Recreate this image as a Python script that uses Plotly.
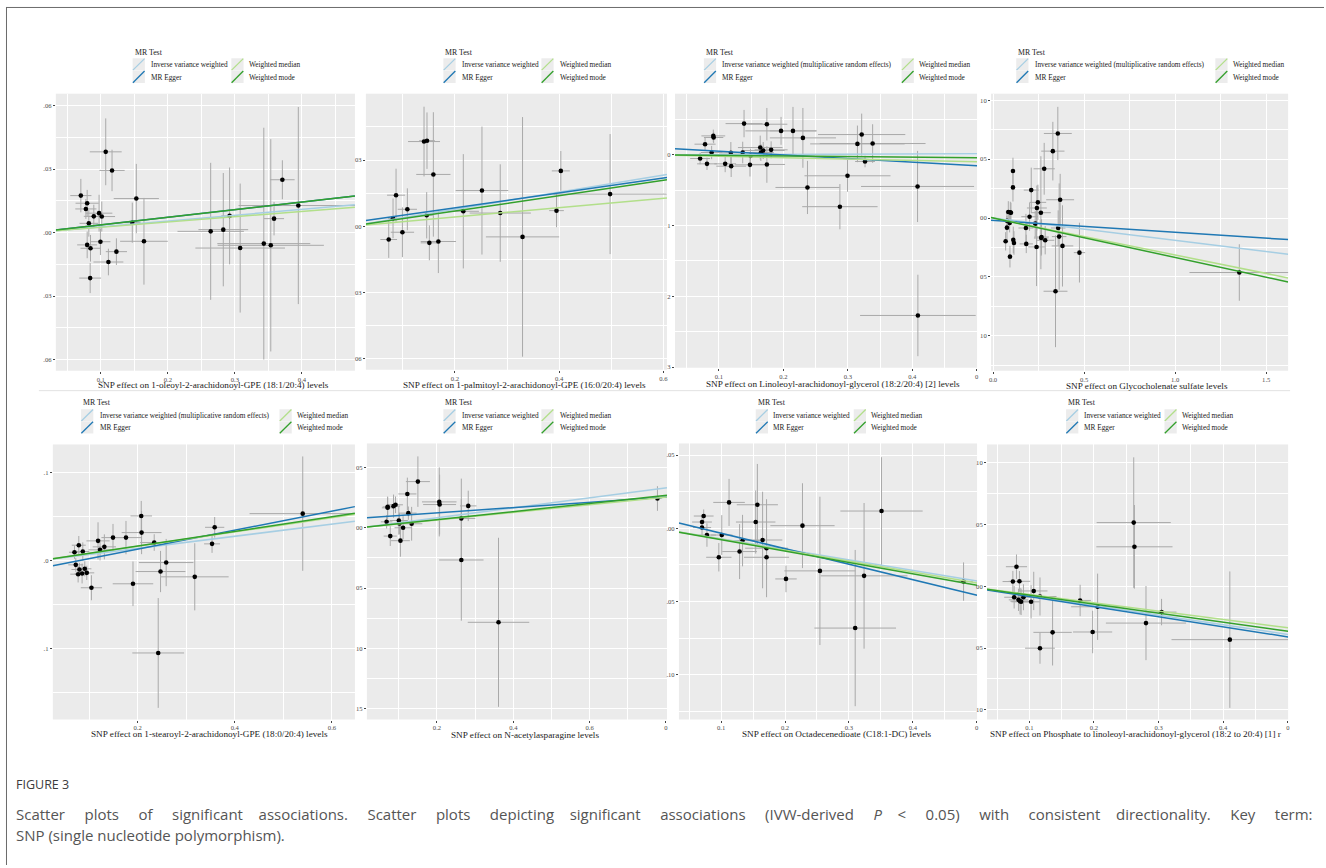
import plotly.graph_objects as go

W, H = 1326, 868

METHODS = ["Inverse variance weighted", "MR Egger", "Weighted median", "Weighted mode"]
METHOD_COLORS = ["#a6cee3", "#1f78b4", "#b2df8a", "#33a02c"]
IVW_LONG = "Inverse variance weighted (multiplicative random effects)"

# ---- 1-oleoyl-2-arachidonoyl-GPE (18:1/20:4) ----
exp1 = [0.0703, 0.0797, 0.0778, 0.0822, 0.0896, 0.0975, 0.1015, 0.0995, 0.0797, 0.0847, 0.0842, 0.1114, 0.1233, 0.1074,
        0.1168, 0.1530, 0.1470, 0.1644, 0.2639, 0.2827, 0.2921, 0.3079, 0.3431, 0.3535, 0.3584, 0.3708, 0.3946]
out1 = [0.0175, 0.0139, 0.0112, 0.0044, 0.0077, 0.0092, 0.0076, -0.0043, -0.0058, -0.0074, -0.0215, -0.0139, -0.0090, 0.0382,
        0.0294, 0.0161, 0.0047, -0.0041, 0.0006, 0.0014, 0.0079, -0.0073, -0.0052, -0.0060, 0.0066, 0.0250, 0.0128]
exp_se1 = [0.0158, 0.0173, 0.0158, 0.0139, 0.0149, 0.0198, 0.0198, 0.0149, 0.0149, 0.0149, 0.0163, 0.0223, 0.0158, 0.0238,
           0.0188, 0.0337, 0.0124, 0.0356, 0.0495, 0.0371, 0.0124, 0.0668, 0.0693, 0.0792, 0.0149, 0.0183, 0.0891]
out_se1 = [0.0079, 0.0063, 0.0047, 0.0063, 0.0055, 0.0087, 0.0071, 0.0063, 0.0063, 0.0063, 0.0071, 0.0063, 0.0063, 0.0158,
           0.0098, 0.0164, 0.0095, 0.0205, 0.0324, 0.0268, 0.0229, 0.0305, 0.0548, 0.0502, 0.0079, 0.0092, 0.0466]
slope1 = [0.0274, 0.0360, 0.0250, 0.0362]
icpt1 = [0.0, 0.0001, 0.0, 0.0]

# ---- 1-palmitoyl-2-arachidonoyl-GPE (16:0/20:4) ----
exp2 = [0.0728, 0.0811, 0.0869, 0.0991, 0.1086, 0.1406, 0.1463, 0.1457, 0.1508, 0.1585, 0.1681, 0.2160, 0.2518, 0.2869,
        0.3297, 0.3949, 0.4032, 0.4978]
out2 = [-0.0060, 0.0036, 0.0141, -0.0027, 0.0077, 0.0384, 0.0388, 0.0050, -0.0075, 0.0235, -0.0069, 0.0068, 0.0162, 0.0060,
        -0.0048, 0.0071, 0.0251, 0.0146]
exp_se2 = [0.0160, 0.0100, 0.0173, 0.0224, 0.0185, 0.0307, 0.0150, 0.0120, 0.0166, 0.0329, 0.0339, 0.0300, 0.0505, 0.0588,
           0.0703, 0.0141, 0.0173, 0.1086]
out_se2 = [0.0083, 0.0090, 0.0120, 0.0113, 0.0095, 0.0158, 0.0128, 0.0105, 0.0079, 0.0282, 0.0143, 0.0259, 0.0290, 0.0221,
           0.0543, 0.0075, 0.0090, 0.0272]
slope2 = [0.0387, 0.0338, 0.0211, 0.0347]
icpt2 = [0.0, 0.0016, 0.0, 0.0]

# ---- Linoleoyl-arachidonoyl-glycerol (18:2/20:4) [2] ----
exp3 = [0.0708, 0.0785, 0.0815, 0.0887, 0.0913, 0.0918, 0.1097, 0.1185, 0.1190, 0.1369, 0.1390, 0.1482, 0.1492, 0.1641,
        0.1651, 0.1687, 0.1744, 0.1744, 0.1810, 0.1964, 0.2149, 0.2303, 0.2374, 0.2877, 0.2995, 0.3149, 0.3215, 0.3267,
        0.3385, 0.4082, 0.4087]
out3 = [-0.0052, 0.0151, -0.0127, 0.0033, 0.0268, 0.0245, -0.0127, 0.0028, -0.0160, 0.0033, 0.0442, -0.0141, -0.0014,
        0.0103, 0.0033, 0.0061, 0.0433, -0.0136, 0.0071, 0.0339, 0.0339, 0.0240, -0.0461, -0.0733, -0.0296, 0.0155, 0.0287,
        -0.0094, 0.0160, -0.0447, -0.2271]
exp_se3 = [0.0154, 0.0164, 0.0154, 0.0167, 0.0185, 0.0150, 0.0169, 0.0179, 0.0231, 0.0179, 0.0287, 0.0231, 0.0150, 0.0346,
           0.0200, 0.0333, 0.0318, 0.0282, 0.0256, 0.0554, 0.0359, 0.0513, 0.0497, 0.0585, 0.0667, 0.0733, 0.0677, 0.0154,
           0.0821, 0.0877, 0.0897]
out_se3 = [0.0082, 0.0094, 0.0087, 0.0094, 0.0089, 0.0080, 0.0118, 0.0153, 0.0153, 0.0153, 0.0193, 0.0165, 0.0100, 0.0169,
           0.0120, 0.0120, 0.0230, 0.0259, 0.0120, 0.0197, 0.0339, 0.0423, 0.0376, 0.0320, 0.0226, 0.0259, 0.0296, 0.0082,
           0.0273, 0.0503, 0.0576]
slope3 = [0.0030, -0.0515, -0.0198, -0.0085]
icpt3 = [0.0, 0.0102, 0.0, 0.0]

# ---- Glycocholenate sulfate ----
exp4 = [0.0693, 0.0766, 0.0766, 0.0839, 0.0949, 0.0985, 0.0912, 0.0931, 0.1095, 0.1095, 0.1113, 0.1150, 0.1807, 0.1825,
        0.2007, 0.2099, 0.2318, 0.2391, 0.2409, 0.2464, 0.2628, 0.2646, 0.2664, 0.2810, 0.2865, 0.3285, 0.3431, 0.3558,
        0.3577, 0.3631, 0.3686, 0.3814, 0.4745, 1.3522]
out4 = [-0.0198, -0.0082, -0.0023, 0.0051, 0.0048, 0.0045, -0.0042, -0.0328, 0.0399, 0.0260, -0.0186, -0.0212, -0.0085,
        -0.0220, 0.0011, 0.0237, -0.0048, -0.0246, 0.0085, 0.0133, 0.0045, -0.0170, -0.0161, 0.0418, -0.0189, 0.0568,
        -0.0622, 0.0718, -0.0085, -0.0158, 0.0155, -0.0237, -0.0294, -0.0463]
exp_se4 = [0.012, 0.012, 0.012, 0.0146, 0.0146, 0.012, 0.012, 0.012, 0.010, 0.010, 0.011, 0.011, 0.041, 0.0365, 0.0456,
           0.041, 0.050, 0.0456, 0.0547, 0.0456, 0.0547, 0.040, 0.040, 0.0584, 0.050, 0.0639, 0.0657, 0.0766, 0.040, 0.040,
           0.0766, 0.0593, 0.031, 0.2737]
out_se4 = [0.0078, 0.0099, 0.0080, 0.0092, 0.0090, 0.0085, 0.0080, 0.0092, 0.0113, 0.0120, 0.0113, 0.0100, 0.0120, 0.0078,
           0.0120, 0.0191, 0.0110, 0.0332, 0.0191, 0.0150, 0.0480, 0.0150, 0.0150, 0.0220, 0.0120, 0.0249, 0.0475, 0.0226,
           0.0150, 0.0452, 0.0220, 0.0345, 0.0254, 0.0240]
slope4 = [-0.0190, -0.0100, -0.0314, -0.0335]
icpt4 = [0.0, -0.0021, 0.0, 0.0]

# ---- 1-stearoyl-2-arachidonoyl-GPE (18:0/20:4) ----
exp5 = [0.0701, 0.0790, 0.0728, 0.0776, 0.0803, 0.0872, 0.0858, 0.0913, 0.0954, 0.1050, 0.1186, 0.1227, 0.1316, 0.1494,
        0.1761, 0.1905, 0.2075, 0.2082, 0.2342, 0.2472, 0.2588, 0.2424, 0.3176, 0.3532, 0.3586, 0.5398]
out5 = [0.0094, 0.0174, -0.0049, -0.0155, -0.0102, 0.0102, -0.0147, -0.0094, -0.0140, -0.0309, 0.0223, 0.0121, 0.0155,
        0.0260, 0.0260, -0.0264, 0.0506, 0.0317, 0.0204, -0.0125, -0.0023, -0.1049, -0.0185, 0.0189, 0.0377, 0.0532]
exp_se5 = [0.0113, 0.0144, 0.0154, 0.0161, 0.0164, 0.0137, 0.0154, 0.0137, 0.0154, 0.0219, 0.0239, 0.0239, 0.0239, 0.0239,
           0.0328, 0.0417, 0.0222, 0.0410, 0.0290, 0.0513, 0.0561, 0.0533, 0.0697, 0.0164, 0.0198, 0.1094]
out_se5 = [0.0075, 0.0104, 0.0079, 0.0094, 0.0075, 0.0104, 0.0113, 0.0085, 0.0081, 0.0142, 0.0211, 0.0120, 0.0142, 0.0155,
           0.0189, 0.0253, 0.0170, 0.0245, 0.0094, 0.0234, 0.0268, 0.0623, 0.0381, 0.0102, 0.0117, 0.0649]
slope5 = [0.0688, 0.1081, 0.0810, 0.0828]
icpt5 = [0.0, -0.0088, 0.0, 0.0]

# ---- N-acetylasparagine ----
exp6 = [0.0681, 0.0707, 0.0707, 0.0776, 0.0862, 0.0914, 0.1000, 0.1017, 0.1043, 0.1112, 0.1224, 0.1250, 0.1336, 0.1500,
        0.2060, 0.2069, 0.2638, 0.2638, 0.2819, 0.3612, 0.7776]
out6 = [0.0049, 0.0165, 0.0173, -0.0069, 0.0179, 0.0190, 0.0060, 0.0036, -0.0107, 0.0000, 0.0280, 0.0121, 0.0033, 0.0382,
        0.0214, 0.0192, 0.0077, -0.0267, 0.0181, -0.0783, 0.0242]
exp_se6 = [0.0151, 0.0151, 0.0130, 0.0172, 0.0172, 0.0194, 0.0237, 0.0150, 0.0246, 0.0224, 0.0237, 0.0216, 0.0280, 0.0315,
           0.0453, 0.0431, 0.0366, 0.0582, 0.0216, 0.0806, 0.0108]
out_se6 = [0.0055, 0.0093, 0.0080, 0.0082, 0.0096, 0.0069, 0.0117, 0.0090, 0.0133, 0.0096, 0.0135, 0.0055, 0.0140, 0.0209,
           0.0286, 0.0247, 0.0330, 0.0503, 0.0126, 0.0700, 0.0102]
slope6 = [0.0414, 0.0220, 0.0318, 0.0335]
icpt6 = [0.0, 0.0079, 0.0, 0.0]

# ---- Octadecenedioate (C18:1-DC) ----
exp7 = [0.0701, 0.0701, 0.0727, 0.0778, 0.0964, 0.1010, 0.1124, 0.1289, 0.1335, 0.1541, 0.1567, 0.1649, 0.1711, 0.1711,
        0.2015, 0.2273, 0.2546, 0.3098, 0.3237, 0.3510, 0.4794]
out7 = [0.0005, 0.0043, 0.0084, -0.0046, -0.0198, -0.0046, 0.0177, -0.0159, -0.0084, 0.0043, 0.0161, -0.0080, -0.0136,
        -0.0198, -0.0346, 0.0018, -0.0291, -0.0682, -0.0325, 0.0118, -0.0364]
exp_se7 = [0.0142, 0.0155, 0.0155, 0.0142, 0.0198, 0.0168, 0.0247, 0.0271, 0.0296, 0.0309, 0.0322, 0.0309, 0.0335, 0.0353,
           0.0168, 0.0503, 0.0557, 0.0639, 0.0680, 0.0644, 0.0142]
out_se7 = [0.0050, 0.0048, 0.0045, 0.0080, 0.0097, 0.0136, 0.0161, 0.0188, 0.0176, 0.0216, 0.0279, 0.0330, 0.0335, 0.0153,
           0.0091, 0.0290, 0.0507, 0.0534, 0.0498, 0.0368, 0.0131]
slope7 = [-0.0719, -0.1057, -0.0746, -0.0778]
icpt7 = [0.0, 0.0072, 0.0, 0.0]

# ---- Phosphate to linoleoyl-arachidonoyl-glycerol (18:2 to 20:4) [1] ratio ----
exp8 = [0.0744, 0.0764, 0.0800, 0.0831, 0.0846, 0.0856, 0.0872, 0.0908, 0.1026, 0.1067, 0.1164, 0.1164, 0.1359, 0.1785,
        0.1979, 0.2056, 0.2615, 0.2626, 0.2805, 0.3046, 0.4103]
out8 = [0.0038, -0.0089, 0.0158, -0.0110, 0.0040, -0.0121, -0.0126, -0.0089, -0.0126, -0.0038, -0.0083, -0.0501, -0.0373,
        -0.0115, -0.0370, -0.0166, 0.0515, 0.0319, -0.0298, -0.0209, -0.0432]
exp_se8 = [0.0159, 0.0154, 0.0164, 0.0150, 0.0167, 0.0150, 0.0150, 0.0154, 0.0133, 0.0213, 0.0256, 0.0231, 0.0297, 0.0167,
           0.0303, 0.0410, 0.0574, 0.0590, 0.0621, 0.0231, 0.0903]
out_se8 = [0.0086, 0.0091, 0.0099, 0.0090, 0.0083, 0.0107, 0.0107, 0.0105, 0.0134, 0.0155, 0.0154, 0.0126, 0.0268, 0.0127,
           0.0172, 0.0268, 0.0528, 0.0338, 0.0300, 0.0107, 0.0552]
slope8 = [-0.0780, -0.0815, -0.0672, -0.0726]
icpt8 = [0.0, -0.0002, 0.0, 0.0]

# ---- panel layout (pixel boxes, axis ranges, ticks, titles, legend anchors) ----
PANELS = [
    dict(d=(exp1, out1, exp_se1, out_se1, slope1, icpt1), box=(54, 94, 354, 372),
         xr=(0.033, 0.479), yr=(-0.0653, 0.0657),
         xt=[0.1, 0.2, 0.3, 0.4], xtt=["0.1", "0.2", "0.3", "0.4"],
         yt=[0.06, 0.03, 0.0, -0.03, -0.06], ytt=[".06", ".03", ".00", ".03", ".06"],
         title="SNP effect on 1-oleoyl-2-arachidonoyl-GPE (18:1/20:4) levels", tx=212, ty=386.5,
         leg=(131, 147.3, 230, 246), row=0, ivw=METHODS[0]),
    dict(d=(exp2, out2, exp_se2, out_se2, slope2, icpt2), box=(365, 94, 667, 371),
         xr=(0.029, 0.607), yr=(-0.065, 0.0601),
         xt=[0.2, 0.4, 0.6], xtt=["0.2", "0.4", "0.6"],
         yt=[0.03, 0.0, -0.03, -0.06], ytt=["03", "00", "03", "06"],
         title="SNP effect on 1-palmitoyl-2-arachidonoyl-GPE (16:0/20:4) levels", tx=524, ty=386.5,
         leg=(442.7, 459.3, 541, 557.3), row=0, ivw=METHODS[0]),
    dict(d=(exp3, out3, exp_se3, out_se3, slope3, icpt3), box=(675, 94, 978, 369),
         xr=(0.0318, 0.5005), yr=(-0.301, 0.0865),
         xt=[0.1, 0.2, 0.3, 0.4, 0.5], xtt=["0.1", "0.2", "0.3", "0.4", "0"],
         yt=[0.0, -0.1, -0.2, -0.3], ytt=["0", "1", "2", "3"],
         title="SNP effect on Linoleoyl-arachidonoyl-glycerol (18:2/20:4) [2] levels", tx=834, ty=385.5,
         leg=(704, 720, 902.3, 917.3), row=0, ivw=IVW_LONG),
    dict(d=(exp4, out4, exp_se4, out_se4, slope4, icpt4), box=(992, 94, 1290, 372),
         xr=(-0.011, 1.620), yr=(-0.1297, 0.1056),
         xt=[0.0, 0.5, 1.0, 1.5], xtt=["0.0", "0.5", "1.0", "1.5"],
         yt=[0.1, 0.05, 0.0, -0.05, -0.1], ytt=["10", "05", "00", "05", "10"],
         title="SNP effect on Glycocholenate sulfate levels", tx=1148.5, ty=387,
         leg=(1017.3, 1033.7, 1217, 1232.3), row=0, ivw=IVW_LONG),
    dict(d=(exp5, out5, exp_se5, out_se5, slope5, icpt5), box=(51, 446, 354, 722),
         xr=(0.0256, 0.6472), yr=(-0.1804, 0.1317),
         xt=[0.2, 0.4, 0.6], xtt=["0.2", "0.4", "0.6"],
         yt=[0.1, 0.0, -0.1], ytt=[".1", ".0", ".1"],
         title="SNP effect on 1-stearoyl-2-arachidonoyl-GPE (18:0/20:4) levels", tx=208, ty=736.7,
         leg=(79.3, 96, 278.3, 294), row=1, ivw=IVW_LONG),
    dict(d=(exp6, out6, exp_se6, out_se6, slope6, icpt6), box=(366, 445, 667, 722),
         xr=(0.0164, 0.8026), yr=(-0.1588, 0.0698),
         xt=[0.2, 0.4, 0.6, 0.8], xtt=["0.2", "0.4", "0.6", "0"],
         yt=[0.05, 0.0, -0.05, -0.1, -0.15], ytt=["05", "00", "05", "10", "15"],
         title="SNP effect on N-acetylasparagine levels", tx=524.3, ty=737.5,
         leg=(442.7, 459.3, 541, 557.7), row=1, ivw=METHODS[0]),
    dict(d=(exp7, out7, exp_se7, out_se7, slope7, icpt7), box=(679, 445, 978, 722),
         xr=(0.034, 0.5005), yr=(-0.1307, 0.058),
         xt=[0.1, 0.2, 0.3, 0.4, 0.5], xtt=["0.1", "0.2", "0.3", "0.4", "0"],
         yt=[0.05, 0.0, -0.05, -0.1], ytt=[".05", ".00", ".05", ".10"],
         title="SNP effect on Octadecenedioate (C18:1-DC) levels", tx=836.7, ty=737,
         leg=(756, 771.7, 854.3, 870), row=1, ivw=METHODS[0]),
    dict(d=(exp8, out8, exp_se8, out_se8, slope8, icpt8), box=(988, 446, 1290, 722),
         xr=(0.0344, 0.5005), yr=(-0.1078, 0.1147),
         xt=[0.1, 0.2, 0.3, 0.4, 0.5], xtt=["0.1", "0.2", "0.3", "0.4", "0"],
         yt=[0.1, 0.05, 0.0, -0.05, -0.1], ytt=["10", "05", "00", "05", "10"],
         title="SNP effect on Phosphate to linoleoyl-arachidonoyl-glycerol (18:2 to 20:4) [1] r", tx=988.5, ty=737,
         tanchor="left", leg=(1067.3, 1083.3, 1166, 1181.7), row=1, ivw=METHODS[0]),
]

# legend rows (title y, key boxes, text y) for the two rows of panels
LEG_ROWS = [
    dict(title=52.3, boxes=[(58.5, 70.7), (70.9, 83.3)], text=[65.2, 77.4]),
    dict(title=404.0, boxes=[(410.7, 422.7), (422.9, 435.0)], text=[416.9, 429.0]),
]

SERIF = "Liberation Serif"
GRID = "#ffffff"
ERR_COLOR = "#a9a9a9"


def fx(px):
    return px / W


def fy(py):
    return 1 - py / H


def minor_vals(major, lo, hi):
    major = sorted(major)
    step = major[1] - major[0]
    vals = [m + step / 2 for m in major] + [major[0] - step / 2]
    return [v for v in vals if lo <= v <= hi and all(abs(v - m) > 1e-9 for m in major)]


fig = go.Figure()
layout = {}
shapes = []
annotations = []

# page frame and row divider
shapes.append(dict(type="line", xref="paper", yref="paper", x0=fx(4.5), x1=fx(4.5), y0=fy(7), y1=0,
                   line=dict(color="#6b6b6b", width=1)))
shapes.append(dict(type="line", xref="paper", yref="paper", x0=fx(4.5), x1=1, y0=fy(7.5), y1=fy(7.5),
                   line=dict(color="#6b6b6b", width=1)))
shapes.append(dict(type="line", xref="paper", yref="paper", x0=fx(37), x1=fx(1292), y0=fy(392), y1=fy(392),
                   line=dict(color="#e2e2e2", width=1)))

for i, p in enumerate(PANELS, start=1):
    sfx = "" if i == 1 else str(i)
    xa, ya = "x" + sfx, "y" + sfx
    bx, by, sx, sy, slopes, icpts = p["d"]
    x0, y0, x1, y1 = p["box"]

    fig.add_trace(go.Scatter(
        x=bx, y=by, mode="markers", xaxis=xa, yaxis=ya, showlegend=False, hoverinfo="skip",
        marker=dict(color="black", size=4.6, line=dict(width=0)),
        error_x=dict(type="data", array=sx, color=ERR_COLOR, thickness=1, width=0),
        error_y=dict(type="data", array=sy, color=ERR_COLOR, thickness=1, width=0),
    ))
    for m in range(4):
        lx = list(p["xr"])
        ly = [icpts[m] + slopes[m] * v for v in lx]
        fig.add_trace(go.Scatter(
            x=lx, y=ly, mode="lines", xaxis=xa, yaxis=ya, showlegend=False, hoverinfo="skip",
            line=dict(color=METHOD_COLORS[m], width=1.5), name=METHODS[m],
        ))

    tickfont = dict(family=SERIF, size=6.6, color="#4d4d4d")
    layout["xaxis" + sfx] = dict(
        domain=[fx(x0), fx(x1)], range=list(p["xr"]), anchor=ya, tickmode="array",
        tickvals=p["xt"], ticktext=p["xtt"], tickfont=tickfont, ticks="outside", ticklen=2,
        tickwidth=0.8, tickcolor="#444", showgrid=True, gridcolor=GRID, gridwidth=1.1, zeroline=False,
        showline=False, fixedrange=True,
        minor=dict(tickvals=minor_vals(p["xt"], *p["xr"]), showgrid=True, gridcolor=GRID, gridwidth=0.5),
    )
    layout["yaxis" + sfx] = dict(
        domain=[fy(y1), fy(y0)], range=list(p["yr"]), anchor=xa, tickmode="array",
        tickvals=p["yt"], ticktext=p["ytt"], tickfont=tickfont, ticks="outside", ticklen=2,
        tickwidth=0.8, tickcolor="#444", showgrid=True, gridcolor=GRID, gridwidth=1.1, zeroline=False,
        showline=False, fixedrange=True,
        minor=dict(tickvals=minor_vals(p["yt"], *p["yr"]), showgrid=True, gridcolor=GRID, gridwidth=0.5),
    )

    # x-axis title
    annotations.append(dict(
        text=p["title"], x=fx(p["tx"]), y=fy(p["ty"]), xref="paper", yref="paper",
        xanchor=p.get("tanchor", "center"), yanchor="middle", showarrow=False,
        font=dict(family=SERIF, size=9.2, color="#1a1a1a"),
    ))

    # method key above each panel
    row = LEG_ROWS[p["row"]]
    kx_left, tx_left, kx_right, tx_right = p["leg"]
    annotations.append(dict(
        text="MR Test", x=fx(kx_left), y=fy(row["title"]), xref="paper", yref="paper",
        xanchor="left", yanchor="middle", showarrow=False,
        font=dict(family=SERIF, size=7.8, color="#1a1a1a"),
    ))
    entries = [
        (kx_left, tx_left, 0, p["ivw"], 0),
        (kx_left, tx_left, 1, METHODS[1], 1),
        (kx_right, tx_right, 0, METHODS[2], 2),
        (kx_right, tx_right, 1, METHODS[3], 3),
    ]
    for kx, tx, r, label, m in entries:
        b0, b1 = row["boxes"][r]
        shapes.append(dict(type="rect", xref="paper", yref="paper", x0=fx(kx), x1=fx(kx + 12.3),
                           y0=fy(b1), y1=fy(b0), fillcolor="#ececec", line=dict(width=0)))
        shapes.append(dict(type="line", xref="paper", yref="paper", x0=fx(kx + 0.3), x1=fx(kx + 12.0),
                           y0=fy(b1 - 0.3), y1=fy(b0 + 0.3),
                           line=dict(color=METHOD_COLORS[m], width=1.3)))
        annotations.append(dict(
            text=label, x=fx(tx), y=fy(row["text"][r]), xref="paper", yref="paper",
            xanchor="left", yanchor="middle", showarrow=False,
            font=dict(family=SERIF, size=7.3, color="#1a1a1a"),
        ))

# caption (first line is justified to the full text width)
CAP_FONT = "Open Sans"
NB = "\u00a0"
cap_words = ["Scatter", "plots", "of", "significant", "associations.", "Scatter", "plots", "depicting",
             "significant", "associations", "(IVW-derived", "<i>P</i>", "&lt;", "0.05)", "with", "consistent",
             "directionality.", "Key", "term:"]
cap_line1 = ""
for k, w in enumerate(cap_words):
    cap_line1 += w
    if k < len(cap_words) - 1:
        cap_line1 += " " + NB * (4 if k % 4 != 3 else 3)

annotations.append(dict(text="FIGURE 3", x=fx(12), y=fy(787), xref="paper", yref="paper",
                        xanchor="left", yanchor="middle", showarrow=False,
                        font=dict(family=CAP_FONT, size=12.5, color="#3c3c3c")))
annotations.append(dict(
    text=cap_line1,
    x=fx(12), y=fy(817), xref="paper", yref="paper", xanchor="left", yanchor="middle", showarrow=False,
    font=dict(family=CAP_FONT, size=15, color="#555555")))
annotations.append(dict(
    text="SNP (single nucleotide polymorphism).",
    x=fx(12), y=fy(838), xref="paper", yref="paper", xanchor="left", yanchor="middle", showarrow=False,
    font=dict(family=CAP_FONT, size=15, color="#555555")))

fig.update_layout(
    width=W, height=H, autosize=False, margin=dict(l=0, r=0, t=0, b=0),
    paper_bgcolor="white", plot_bgcolor="#ebebeb", showlegend=False,
    shapes=shapes, annotations=annotations, **layout,
)

fig.write_html("out.html")
